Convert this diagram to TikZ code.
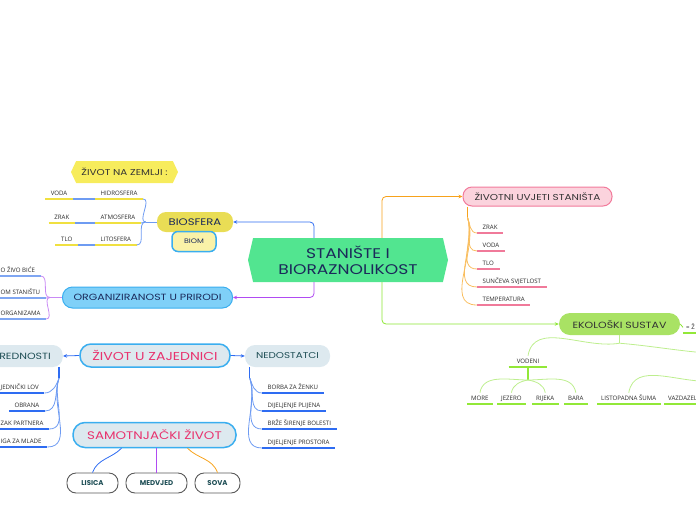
\documentclass[tikz,border=0pt]{standalone}
\usepackage{fontspec}
\setmainfont{Poppins}
\newfontfamily\wide[FakeStretch=1.22]{Poppins}
\newfontfamily\leaffont{Open Sans}
\usetikzlibrary{shapes.symbols,arrows.meta}
\definecolor{cgreen}{HTML}{52E590}
\definecolor{navy}{HTML}{1B2A5A}
\definecolor{bioy}{HTML}{E9DD55}
\definecolor{zemy}{HTML}{F7EC5C}
\definecolor{biomy}{HTML}{FAF2A8}
\definecolor{skyb}{HTML}{3AAEEF}
\definecolor{orgf}{HTML}{7FD0F8}
\definecolor{greyb}{HTML}{DDE9EF}
\definecolor{pinkf}{HTML}{FBD3DD}
\definecolor{pinkb}{HTML}{F27A9B}
\definecolor{ekof}{HTML}{A9E264}
\definecolor{pinkt}{HTML}{E8336E}
\definecolor{tealt}{HTML}{1E4E55}
\definecolor{leafc}{HTML}{2A2A2A}
\definecolor{cblue}{HTML}{2E6CF2}
\definecolor{lblue}{HTML}{6E9BF2}
\definecolor{cpurple}{HTML}{B04BF2}
\definecolor{lpurple}{HTML}{C98AF5}
\definecolor{corange}{HTML}{F7A21B}
\definecolor{cgreenl}{HTML}{8CE633}
\definecolor{pgreen}{HTML}{BDEE8E}
\definecolor{uly}{HTML}{F0E040}
\definecolor{ulp}{HTML}{F07A9A}
\definecolor{ulg}{HTML}{92E838}
\definecolor{ulb}{HTML}{7FA6F2}
\begin{document}
\begin{tikzpicture}[x=1pt,y=-1pt,
  mf/.style={font=\wide\fontsize{#1}{#1}\selectfont},
  rbox/.style={rounded corners=#1, inner sep=0pt, align=center},
  leafnode/.style={font=\leaffont\fontsize{6.1}{6.5}\selectfont, text=leafc, inner xsep=5.5pt, inner ysep=3pt, text height=4.4pt, text depth=0.5pt,
    append after command={(\tikzlastnode.south west) edge[draw=#1, line width=1.2pt] (\tikzlastnode.south east)}},
  animal/.style={draw=black!65, line width=0.9pt, fill=white, rounded corners=9pt, minimum height=20pt, inner sep=0pt, text=tealt, font=\bfseries\fontsize{7}{7}\selectfont},
  arr/.style={-{Stealth[length=4pt,width=3.5pt]}},
  conn/.style={line width=0.8pt}
]
\useasboundingbox (0,0) rectangle (696,520);

% ---------- centre ----------
\node[shape=signal, signal to=west and east, signal pointer angle=154, fill=cgreen,
  minimum width=200pt, minimum height=44pt, inner sep=0pt, align=center, text=navy,
  font=\wide\fontsize{14}{15.5}\selectfont] (c) at (348,260) {STANIŠTE I\\BIORAZNOLIKOST};

% ---------- BIOSFERA ----------
\node[rbox=9pt, fill=bioy, minimum width=76pt, minimum height=20pt, text=navy, mf=9.5] (bio) at (195,222) {BIOSFERA};
\node[rbox=6pt, fill=biomy, draw=skyb, line width=1.5pt, minimum width=44pt, minimum height=20pt, text=navy, mf=6.5] (biom) at (194,241.5) {BIOM};
\node[shape=signal, signal to=west and east, signal pointer angle=130, fill=zemy,
  minimum width=107pt, minimum height=22pt, inner sep=0pt, text=black!80, mf=8.5] (zem) at (124.5,172) {ŽIVOT NA ZEMLJI :};

\node[leafnode=uly, anchor=south west] (hid) at (95,199) {HIDROSFERA};
\node[leafnode=uly, anchor=south west] (atm) at (95,223) {ATMOSFERA};
\node[leafnode=uly, anchor=south west] (lit) at (95,245) {LITOSFERA};
\node[leafnode=uly, anchor=south east] (voda1) at (73,199) {VODA};
\node[leafnode=uly, anchor=south east] (zrak1) at (75,223) {ZRAK};
\node[leafnode=uly, anchor=south east] (tlo1) at (78,245) {TLO};
\draw[lblue, line width=1.2pt] (voda1.south east) -- (hid.south west);
\draw[lblue, line width=1.2pt] (zrak1.south east) -- (atm.south west);
\draw[lblue, line width=1.2pt] (tlo1.south east) -- (lit.south west);
\draw[lblue, conn] (bio.west) -- ++(-11,0) coordinate (bj);
\foreach \n in {hid,atm,lit} \draw[lblue, conn] (bj) to[out=180,in=0] (\n.south east);

% ---------- ORGANIZIRANOST ----------
\node[rbox=10pt, fill=orgf, draw=skyb, line width=1pt, minimum width=170pt, minimum height=21pt, text=navy, mf=9] (org) at (147.5,297.5) {ORGANIZIRANOST U PRIRODI};
\node[leafnode=ulb, anchor=south west] (o1) at (-5,276) {O ŽIVO BIĆE};
\node[leafnode=ulb, anchor=south west] (o2) at (-5,298) {OM STANIŠTU};
\node[leafnode=ulb, anchor=south west] (o3) at (-5,319) {ORGANIZAMA};
\draw[lpurple, conn] (org.west) -- ++(-12,0) coordinate (oj);
\foreach \n in {o1,o2,o3} \draw[lpurple, conn] (oj) to[out=180,in=0] (\n.south east);

% ---------- ŽIVOT U ZAJEDNICI ----------
\node[rbox=11pt, fill=greyb, draw=skyb, line width=1.5pt, minimum width=150pt, minimum height=23pt, text=pinkt, mf=11.5] (zaj) at (155,355.5) {ŽIVOT U ZAJEDNICI};
\node[rbox=10pt, fill=greyb, inner xsep=12pt, minimum height=22pt, text=tealt, mf=9, anchor=east] (pred) at (63,356) {REDNOSTI};
\node[rbox=10pt, fill=greyb, minimum width=85pt, minimum height=22pt, text=tealt, mf=8.5] (nedo) at (287.5,356) {NEDOSTATCI};
\draw[cblue, conn, arr] (zaj.west) -- (pred.east);
\draw[cblue, conn, arr] (zaj.east) -- (nedo.west);

\node[leafnode=cblue, anchor=south west] (p1) at (-5,393) {JEDNIČKI LOV};
\node[leafnode=cblue, anchor=south east] (p2) at (45,411) {OBRANA};
\node[leafnode=cblue, anchor=south west] (p3) at (-5,429) {ZAK PARTNERA};
\node[leafnode=cblue, anchor=south west] (p4) at (-5,447) {IGA ZA MLADE};
\draw[cblue, line width=1.3pt] ([xshift=-4pt]pred.south east) -- ++(0,11) coordinate (pj);
\foreach \n in {p1,p2,p3,p4} \draw[lblue, conn] (pj) to[out=250,in=0] (\n.south east);

\node[leafnode=cblue, anchor=south west] (n1) at (262,393) {BORBA ZA ŽENKU};
\node[leafnode=cblue, anchor=south west] (n2) at (262,411) {DIJELJENJE PLIJENA};
\node[leafnode=cblue, anchor=south west] (n3) at (262,429) {BRŽE ŠIRENJE BOLESTI};
\node[leafnode=cblue, anchor=south west] (n4) at (262,448) {DIJELJENJE PROSTORA};
\draw[cblue, line width=1.3pt] ([xshift=5pt]nedo.south west) -- ++(0,11) coordinate (nj);
\foreach \n in {n1,n2,n3,n4} \draw[lblue, conn] (nj) to[out=290,in=180] (\n.south west);

% ---------- SAMOTNJAČKI ŽIVOT ----------
\node[rbox=12pt, fill=greyb, draw=skyb, line width=1.5pt, minimum width=163pt, minimum height=25pt, text=pinkt, mf=11] (samo) at (154.5,435) {SAMOTNJAČKI ŽIVOT};
\node[animal, minimum width=51pt] (lis) at (92.5,483) {LISICA};
\node[animal, minimum width=61pt] (med) at (156.5,483) {MEDVJED};
\node[animal, minimum width=45pt] (sova) at (217.5,483) {SOVA};
\draw[cblue, conn] ([xshift=-33pt]samo.south) to[out=225,in=70] (lis.north);
\draw[cpurple, conn] (samo.south -| med.north) -- (med.north);
\draw[corange, conn] ([xshift=33pt]samo.south) to[out=-45,in=110] (sova.north);

% ---------- ŽIVOTNI UVJETI STANIŠTA ----------
\node[rbox=9pt, fill=pinkf, draw=pinkb, line width=1pt, minimum width=149pt, minimum height=19pt, text=black!80, mf=8.6] (uvj) at (537.5,196.5) {ŽIVOTNI UVJETI STANIŠTA};
\node[leafnode=ulp, anchor=south west] (u1) at (477,233) {ZRAK};
\node[leafnode=ulp, anchor=south west] (u2) at (477,251) {VODA};
\node[leafnode=ulp, anchor=south west] (u3) at (477,269) {TLO};
\node[leafnode=ulp, anchor=south west] (u4) at (477,287) {SUNČEVA SVJETLOST};
\node[leafnode=ulp, anchor=south west] (u5) at (477,305) {TEMPERATURA};
\draw[corange, line width=1.5pt] ([xshift=5pt]uvj.south west) -- ++(0,11) coordinate (uj);
\foreach \n in {u1,u2,u3,u4,u5} \draw[corange!70, conn] (uj) to[out=290,in=180] (\n.south west);

% ---------- EKOLOŠKI SUSTAV ----------
\node[rbox=11pt, fill=ekof, minimum width=121pt, minimum height=22pt, text=black!80, mf=9] (eko) at (619.5,324) {EKOLOŠKI SUSTAV};
\node[leafnode=ulg, anchor=south west, inner xsep=3pt] (zn) at (683,333) {= Ž};
\draw[cgreenl, conn] (eko.east) -- (zn.west);

\node[leafnode=ulg, anchor=south, inner xsep=8pt] (vod) at (528,367) {VODENI};
\node[leafnode=ulg, anchor=south west, inner xsep=4pt] (more) at (467,404) {MORE};
\node[leafnode=ulg, anchor=south west, inner xsep=4pt] (jez) at (497,404) {JEZERO};
\node[leafnode=ulg, anchor=south west, inner xsep=4pt] (rij) at (532,404) {RIJEKA};
\node[leafnode=ulg, anchor=south west, inner xsep=4pt] (bara) at (564,404) {BARA};
\node[leafnode=ulg, anchor=south west, inner xsep=4pt] (lis2) at (597,404) {LISTOPADNA ŠUMA};
\node[leafnode=ulg, anchor=south west, inner xsep=4pt] (vaz) at (664,404) {VAZDAZEL};

\draw[pgreen, line width=1.3pt] (eko.south) -- ++(0,8) coordinate (ej);
\coordinate (offr) at (706,353);
\coordinate (offr2) at (712,381);
\draw[pgreen, conn] (ej) to[out=190,in=80] (vod.north);
\draw[pgreen, conn] (ej) to[out=-5,in=175] (offr);
\draw[ulg, line width=1.8pt] (vod.south) -- ++(0,13) coordinate (vj);
\draw[pgreen, conn] (vj) to[out=180,in=80] (more.north);
\draw[pgreen, conn] (vj) to[out=190,in=80] (jez.north);
\draw[pgreen, conn] (vj) to[out=-10,in=100] (rij.north);
\draw[pgreen, conn] (vj) to[out=0,in=100] (bara.north);
\draw[pgreen, conn] (offr2) to[out=185,in=80] (lis2.north);

% ---------- centre connectors ----------
\draw[cblue, conn, arr, rounded corners=4pt] ([xshift=-34pt]c.north) |- (bio.east);
\draw[cpurple, conn, arr, rounded corners=4pt] ([xshift=-34pt]c.south) |- (org.east);
\draw[corange, conn, arr, rounded corners=4pt] ([xshift=34pt]c.north) |- (uvj.west);
\draw[cgreenl, conn, arr, rounded corners=4pt] ([xshift=34pt]c.south) |- (eko.west);
\end{tikzpicture}
\end{document}
